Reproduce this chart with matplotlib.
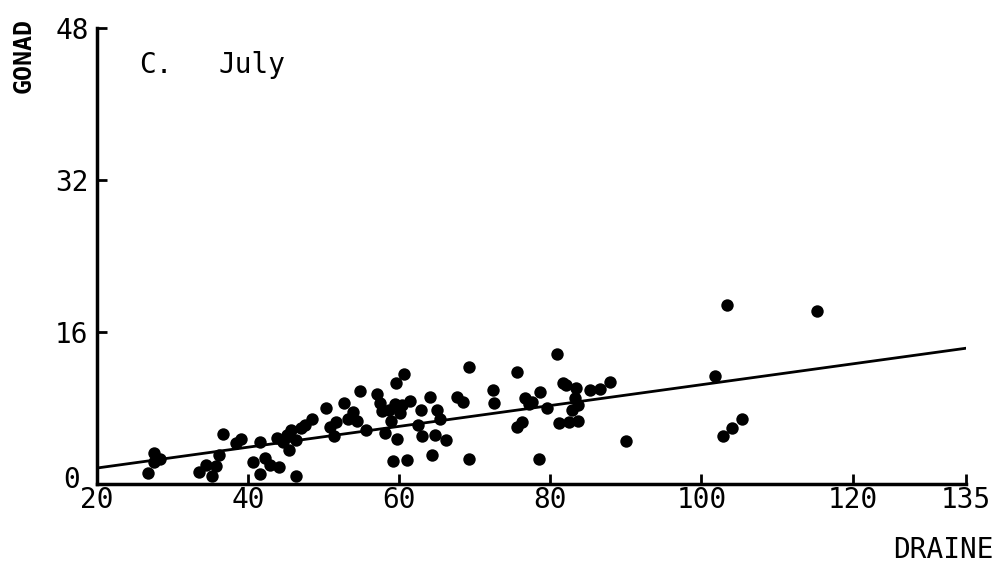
import numpy as np
import matplotlib.pyplot as plt
from matplotlib.transforms import ScaledTranslation

# drained weight vs gonad weight, July sample
drained = [26.7, 27.5, 27.6, 28.3, 33.5, 34.4, 35.2, 35.7, 36.1, 36.7,
           38.4, 39.0, 40.6, 41.6, 41.6, 42.2, 42.9, 43.8, 44.1, 44.6,
           45.1, 45.4, 45.7, 46.3, 46.3, 47.0, 47.5, 48.5, 50.3, 50.8,
           51.4, 51.6, 52.7, 53.2, 53.9, 54.4, 54.8, 55.6, 57.1, 57.4,
           57.7, 58.1, 58.6, 58.9, 59.2, 59.4, 59.6, 59.7, 60.1, 60.4,
           60.6, 61.0, 61.4, 62.5, 62.9, 63.0, 64.1, 64.3, 64.7, 65.0,
           65.4, 66.2, 67.6, 68.4, 69.2, 69.2, 72.4, 72.6, 75.6, 75.6,
           76.2, 76.6, 77.2, 77.6, 78.5, 78.6, 79.5, 80.9, 81.1, 81.7,
           82.1, 82.5, 82.9, 83.3, 83.4, 83.6, 83.6, 85.2, 86.6, 87.9,
           90.0, 101.8, 102.8, 103.4, 104.0, 105.4, 115.3]
gonad = [1.2, 3.3, 2.3, 2.7, 1.3, 2.0, 0.9, 1.9, 3.1, 5.3,
         4.3, 4.8, 2.3, 4.4, 1.1, 2.8, 2.0, 4.9, 1.8, 4.4,
         5.2, 3.6, 5.7, 0.9, 4.6, 5.9, 6.2, 6.9, 8.0, 6.0,
         5.1, 6.5, 8.5, 6.9, 7.6, 6.7, 9.8, 5.7, 9.5, 8.5,
         7.7, 5.4, 7.8, 6.6, 2.4, 8.4, 10.7, 4.8, 7.5, 8.3,
         11.6, 2.5, 8.8, 6.2, 7.8, 5.1, 9.2, 3.1, 5.2, 7.8,
         6.9, 4.7, 9.2, 8.6, 2.6, 12.3, 9.9, 8.5, 11.8, 6.0,
         6.5, 9.1, 8.4, 8.6, 2.7, 9.7, 8.0, 13.7, 6.4, 10.7,
         10.4, 6.5, 7.8, 9.1, 10.1, 6.7, 8.3, 9.9, 10.0, 10.8,
         4.5, 11.4, 5.1, 18.9, 5.9, 6.9, 18.2]

# fitted regression line
intercept = -0.49
slope = 0.1096
fit_x = [20, 135]

x_ticks = [20, 40, 60, 80, 100, 120, 135]
y_ticks = [0, 16, 32, 48]

font = 'DejaVu Sans Mono'

fig = plt.figure(figsize=(9.93, 5.73), dpi=100)
ax = fig.add_axes([0.0977, 0.155, 0.875, 0.796])

ax.scatter(drained, gonad, s=80, color='black', zorder=3, linewidths=0)
fx = np.array(fit_x)
ax.plot(fx, intercept + slope * fx, color='black', lw=2.0)

ax.set_xlim(20, 135)
ax.set_ylim(0, 48)
ax.set_xticks(x_ticks)
ax.set_yticks(y_ticks)
ax.set_xticklabels([str(t) for t in x_ticks], fontfamily=font, fontsize=20)
ax.set_yticklabels([str(t) for t in y_ticks], fontfamily=font, fontsize=20)
ax.tick_params(axis='x', direction='in', length=7, width=2, pad=1)
ax.tick_params(axis='y', direction='in', length=7, width=2, pad=6)
# move the zero label up and left, clear of the "20" below it
zero = ax.get_yticklabels()[0]
zero.set_transform(zero.get_transform()
                   + ScaledTranslation(-9 / 100, 7 / 100, fig.dpi_scale_trans))

for side in ['top', 'right']:
    ax.spines[side].set_visible(False)
for side in ['left', 'bottom']:
    ax.spines[side].set_linewidth(2.5)

ax.text(0.049, 0.92, 'C.', transform=ax.transAxes, fontfamily=font,
        fontsize=20, va='center', ha='left')
ax.text(0.14, 0.92, 'July', transform=ax.transAxes, fontfamily=font,
        fontsize=20, va='center', ha='left')

fig.text(0.024, 0.904, 'GONAD', rotation=90, fontfamily=font, fontsize=18,
         fontweight='bold', va='center', ha='center')
fig.text(0.899, 0.04, 'DRAINED', fontfamily=font, fontsize=20,
         va='center', ha='left')

fig.savefig('out.png', dpi=100)
